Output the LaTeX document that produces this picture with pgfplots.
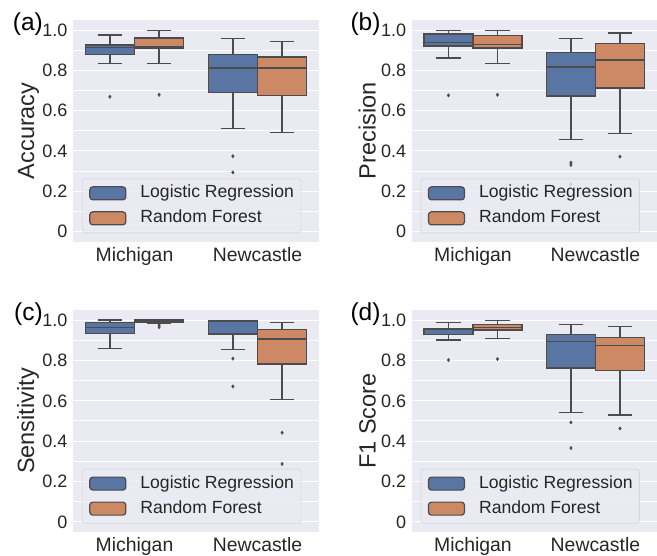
\documentclass[border=0pt]{standalone}
\usepackage{fontspec}
\setmainfont{Liberation Sans}
\usepackage{pgfplots}
\pgfplotsset{compat=1.18}
\usepgfplotslibrary{statistics}
\definecolor{bgc}{HTML}{EAEAF2}
\definecolor{lrc}{HTML}{5875A4}
\definecolor{rfc}{HTML}{CC8963}
\definecolor{lgc}{HTML}{4C4C4C}
\definecolor{lec}{HTML}{CCCCCC}
\newcommand\fYT{\fontsize{18}{20}\selectfont}
\newcommand\fXT{\fontsize{19.4}{22}\selectfont}
\newcommand\fLab{\fontsize{23.5}{26}\selectfont}
\newcommand\fTag{\fontsize{24.5}{27}\selectfont}
\newcommand\fLeg{\fontsize{17.6}{20}\selectfont}

\pgfplotsset{
 panel/.style={
  scale only axis, anchor=south west, clip=false,
  xmin=-0.5, xmax=1.5, ymin=-0.05, ymax=1.05,
  xtick={0,1}, xticklabels={Michigan,Newcastle},
  ytick={0,0.2,0.4,0.6,0.8,1.0}, yticklabels={0,0.2,0.4,0.6,0.8,1.0},
  minor ytick={0.1,0.3,0.5,0.7,0.9},
  ymajorgrids, yminorgrids,
  major grid style={white, line width=1pt},
  minor grid style={white, line width=1pt},
  axis background/.style={fill=bgc},
  axis line style={draw=none},
  major tick length=0pt, minor tick length=0pt,
  /pgf/number format/assume math mode=true,
  yticklabel style={font=\fYT, inner sep=0pt, xshift=-5.3pt, text=black!85},
  xticklabel style={font=\fXT, inner sep=0pt, anchor=base, yshift=-19.7pt, text=black!85},
  ylabel style={font=\fLab, inner sep=0pt, anchor=base, text=black!85},
  legend style={at={(axis description cs:0.0366,0.039)}, anchor=south west,
    fill=bgc, fill opacity=0.8, text opacity=1, draw=lec, rounded corners=3pt,
    font=\fLeg, inner xsep=7pt, inner ysep=6pt, row sep=8pt,
    nodes={inner sep=0pt, text height=13pt, text depth=4pt, text=black!85},
    /tikz/every odd column/.append style={column sep=14pt}},
  legend cell align=left,
 },
 legimg/.style={draw=lgc, line width=1.2pt,
   legend image code/.code={\draw[##1, fill opacity=1] (0pt,-6.5pt) rectangle (36pt,6.5pt);}},
 bstyle/.style={forget plot, solid, draw=lgc, line width=1.3pt,
   boxplot/draw direction=y,
   boxplot/box extend=0.4, boxplot/whisker extend=0.2,
   mark=diamond*, mark size=1.8pt, mark options={fill=lgc, draw=lgc, line width=0.3pt}},
}

% #1 pos, #2 lw, #3 lq, #4 med, #5 uq, #6 uw, #7 colour, #8 outliers
\newcommand\bxo[8]{\addplot[bstyle, fill=#7, boxplot prepared={draw position=#1,
  lower whisker=#2, lower quartile=#3, median=#4, upper quartile=#5, upper whisker=#6}]
  table[row sep=\\, y index=0] {data\\ #8};}
\newcommand\bxn[7]{\addplot[bstyle, fill=#7, boxplot prepared={draw position=#1,
  lower whisker=#2, lower quartile=#3, median=#4, upper quartile=#5, upper whisker=#6}]
  coordinates {};}
\newcommand\leg{%
  \addlegendimage{legimg, fill=lrc}\addlegendentry{Logistic Regression}
  \addlegendimage{legimg, fill=rfc}\addlegendentry{Random Forest}}

\begin{document}
\begin{tikzpicture}
% (a) Accuracy
\begin{axis}[panel, at={(73pt,314.3pt)}, width=246pt, height=221.7pt,
  ylabel={Accuracy}, ylabel style={at={(axis description cs:-0.1585,0.5)}}]
\leg
\bxo{-0.2}{0.833}{0.878}{0.912}{0.926}{0.975}{lrc}{0.669\\}
\bxo{0.2}{0.835}{0.911}{0.919}{0.960}{0.998}{rfc}{0.679\\}
\bxo{0.8}{0.511}{0.689}{0.812}{0.879}{0.959}{lrc}{0.374\\ 0.294\\}
\bxn{1.2}{0.493}{0.674}{0.812}{0.866}{0.942}{rfc}
\node[anchor=base east, font=\fTag, inner sep=0pt, xshift=-30pt, yshift=-10.7pt] at (rel axis cs:0,1) {(a)};
\end{axis}
% (b) Precision
\begin{axis}[panel, at={(411.7pt,314.3pt)}, width=245pt, height=221.7pt,
  ylabel={Precision}, ylabel style={at={(axis description cs:-0.147,0.5)}}]
\leg
\bxo{-0.2}{0.861}{0.921}{0.939}{0.980}{0.997}{lrc}{0.676\\}
\bxo{0.2}{0.833}{0.911}{0.927}{0.972}{0.997}{rfc}{0.679\\}
\bxo{0.8}{0.458}{0.673}{0.817}{0.888}{0.959}{lrc}{0.342\\ 0.331\\ 0.235\\}
\bxo{1.2}{0.488}{0.712}{0.851}{0.932}{0.985}{rfc}{0.372\\}
\node[anchor=base east, font=\fTag, inner sep=0pt, xshift=-31pt, yshift=-10.7pt] at (rel axis cs:0,1) {(b)};
\end{axis}
% (c) Sensitivity
\begin{axis}[panel, at={(73pt,24pt)}, width=246pt, height=222pt,
  ylabel={Sensitivity}, ylabel style={at={(axis description cs:-0.1585,0.5)}}]
\leg
\bxn{-0.2}{0.860}{0.934}{0.964}{0.987}{1.0}{lrc}
\bxo{0.2}{0.985}{0.991}{0.998}{1.0}{1.0}{rfc}{0.975\\ 0.965\\}
\bxo{0.8}{0.855}{0.931}{0.992}{0.995}{0.998}{lrc}{0.809\\ 0.671\\}
\bxo{1.2}{0.608}{0.783}{0.906}{0.952}{0.987}{rfc}{0.442\\ 0.287\\}
\node[anchor=base east, font=\fTag, inner sep=0pt, xshift=-30pt, yshift=-10.7pt] at (rel axis cs:0,1) {(c)};
\end{axis}
% (d) F1 Score
\begin{axis}[panel, at={(411.7pt,24pt)}, width=245pt, height=222pt,
  ylabel={F1 Score}, ylabel style={at={(axis description cs:-0.147,0.5)}}]
\leg
\bxo{-0.2}{0.901}{0.929}{0.954}{0.957}{0.987}{lrc}{0.802\\}
\bxo{0.2}{0.908}{0.951}{0.964}{0.979}{0.997}{rfc}{0.807\\}
\bxo{0.8}{0.542}{0.763}{0.895}{0.929}{0.979}{lrc}{0.493\\ 0.366\\}
\bxo{1.2}{0.530}{0.751}{0.875}{0.913}{0.967}{rfc}{0.463\\}
\node[anchor=base east, font=\fTag, inner sep=0pt, xshift=-31pt, yshift=-10.7pt] at (rel axis cs:0,1) {(d)};
\end{axis}
\pgfresetboundingbox
\path[use as bounding box] (0,0) rectangle (657pt,556pt);
\end{tikzpicture}
\end{document}
